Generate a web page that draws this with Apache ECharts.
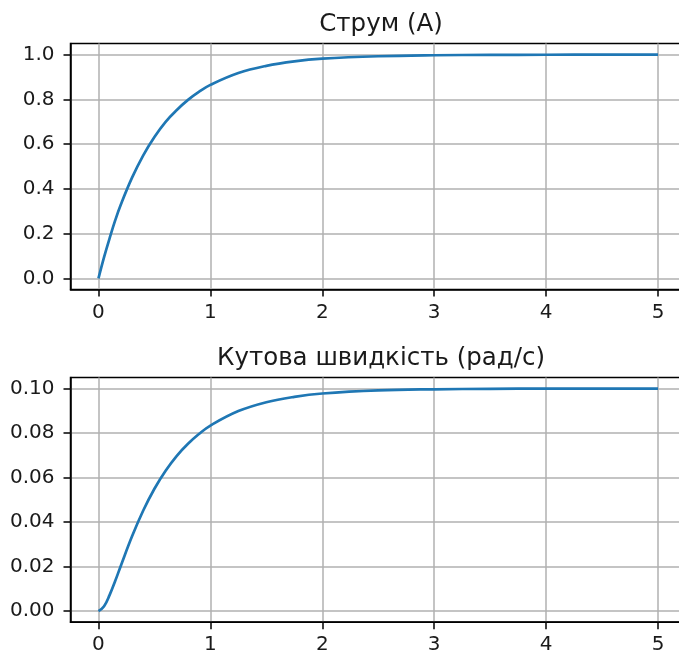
<!DOCTYPE html>
<html>
<head>
<meta charset="utf-8">
<script src="https://cdn.jsdelivr.net/npm/echarts@6/dist/echarts.min.js"></script>
<style>
html,body{margin:0;padding:0;background:#fff;}
#c{width:679px;height:654px;}
</style>
</head>
<body>
<div id="c"></div>
<script>
// Data
var timeTop = [0, 0.05, 0.1, 0.15, 0.2, 0.3, 0.4, 0.5, 0.6, 0.7, 0.8, 0.9, 1.0, 1.25, 1.5, 1.75, 2.0, 2.5, 3.0, 3.5, 4.0, 4.5, 5.0];
var current = [0, 0.095, 0.18, 0.26, 0.33, 0.45, 0.55, 0.632, 0.70, 0.753, 0.798, 0.835, 0.865, 0.918, 0.95, 0.97, 0.982, 0.993, 0.9975, 0.999, 0.9997, 1.0, 1.0];
var timeBottom = [0, 0.05, 0.1, 0.15, 0.2, 0.3, 0.4, 0.5, 0.6, 0.7, 0.8, 0.9, 1.0, 1.25, 1.5, 1.75, 2.0, 2.5, 3.0, 3.5, 4.0, 4.5, 5.0];
var omega = [0, 0.0022, 0.0073, 0.0136, 0.0204, 0.0336, 0.0452, 0.055, 0.0631, 0.0698, 0.0752, 0.0797, 0.0834, 0.0899, 0.0939, 0.0963, 0.0978, 0.0992, 0.0997, 0.0999, 0.1, 0.1, 0.1];
var xTicks = [0, 1, 2, 3, 4, 5];
var yTicksTop = [0, 0.2, 0.4, 0.6, 0.8, 1.0];
var yTicksBottom = [0, 0.02, 0.04, 0.06, 0.08, 0.1];
var titleTop = 'Струм (А)';
var titleBottom = 'Кутова швидкість (рад/с)';

function zip(a, b) { return a.map(function (v, i) { return [v, b[i]]; }); }

var FONT = 'DejaVu Sans';
var TXT = '#1a1a1a';

function xAxis(gi) {
  return {
    type: 'value', gridIndex: gi, min: -0.25, max: 5.25,
    axisLine: { show: true, onZero: false, lineStyle: { color: '#000', width: 1.5 } },
    axisTick: { show: true, length: 7, customValues: xTicks, lineStyle: { color: '#000', width: 1.5 } },
    axisLabel: { customValues: xTicks, margin: 13, fontFamily: FONT, fontSize: 20, color: TXT,
      formatter: function (v) { return String(Math.round(v)); } },
    splitLine: { show: true, lineStyle: { color: '#b0b0b0', width: 1.5 } }
  };
}
function yAxis(gi, min, max, ticks, dec) {
  return {
    type: 'value', gridIndex: gi, min: min, max: max,
    axisLine: { show: true, onZero: false, lineStyle: { color: '#000', width: 1.5 } },
    axisTick: { show: true, length: 7, customValues: ticks, lineStyle: { color: '#000', width: 1.5 } },
    axisLabel: { customValues: ticks, margin: 16, fontFamily: FONT, fontSize: 20, color: TXT,
      formatter: function (v) { return v.toFixed(dec); } },
    splitLine: { show: true, lineStyle: { color: '#b0b0b0', width: 1.5 } }
  };
}

var chart = echarts.init(document.getElementById('c'), null, { renderer: 'canvas' });
chart.setOption({
  animation: false,
  backgroundColor: '#fff',
  title: [
    { text: titleTop, left: 376, top: 7, textAlign: 'center',
      textStyle: { fontFamily: FONT, fontSize: 24.5, fontWeight: 'normal', color: TXT } },
    { text: titleBottom, left: 376, top: 341, textAlign: 'center',
      textStyle: { fontFamily: FONT, fontSize: 24.5, fontWeight: 'normal', color: TXT } }
  ],
  grid: [
    { left: 70.5, top: 43.5, width: 615.5, height: 246, show: true, borderColor: '#000', borderWidth: 1.5,
      backgroundColor: 'transparent', outerBoundsMode: 'none', containLabel: false },
    { left: 70.5, top: 377.5, width: 615.5, height: 244.7, show: true, borderColor: '#000', borderWidth: 1.5,
      backgroundColor: 'transparent', outerBoundsMode: 'none', containLabel: false }
  ],
  xAxis: [xAxis(0), xAxis(1)],
  yAxis: [yAxis(0, -0.05, 1.05, yTicksTop, 1), yAxis(1, -0.005, 0.105, yTicksBottom, 2)],
  series: [
    { type: 'line', xAxisIndex: 0, yAxisIndex: 0, data: zip(timeTop, current), showSymbol: false,
      smooth: 0.4, lineStyle: { color: '#1f77b4', width: 2.7 }, z: 5 },
    { type: 'line', xAxisIndex: 1, yAxisIndex: 1, data: zip(timeBottom, omega), showSymbol: false,
      smooth: 0.4, lineStyle: { color: '#1f77b4', width: 2.7 }, z: 5 }
  ]
});
</script>
</body>
</html>
